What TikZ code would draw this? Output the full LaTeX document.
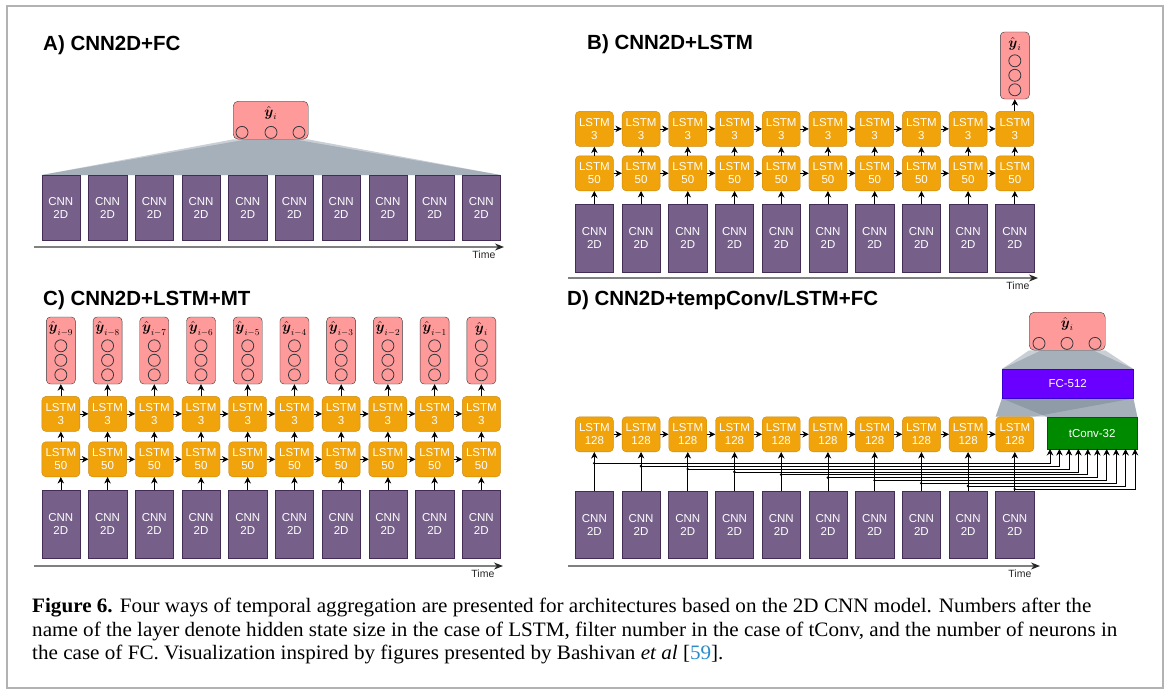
\documentclass[tikz,border=0pt]{standalone}
\usepackage{amsmath}
\usepackage{fontspec}
\setmainfont{Liberation Serif}
\setsansfont{Liberation Sans}
\newfontfamily\capfont[FakeStretch=1.03]{Liberation Serif}
\usetikzlibrary{arrows.meta,positioning,calc,backgrounds}

\definecolor{cnnfill}{HTML}{76608A}
\definecolor{cnnline}{HTML}{432D57}
\definecolor{lstmfill}{HTML}{F0A30A}
\definecolor{lstmline}{HTML}{C98A10}
\definecolor{outfill}{HTML}{FF9A9A}
\definecolor{outline}{HTML}{36393D}
\definecolor{fcfill}{HTML}{6A00FF}
\definecolor{fcline}{HTML}{3700CC}
\definecolor{tcfill}{HTML}{008A00}
\definecolor{tcline}{HTML}{005700}
\definecolor{fanc}{HTML}{647687}
\definecolor{citeblue}{HTML}{2A8BC9}

\begin{document}
\begin{tikzpicture}[x=1pt,y=-1pt]

\tikzset{
  blk/.style  = {inner sep=0pt, align=center, text=white, anchor=north west,
                 font=\sffamily\fontsize{11.5}{13.3}\selectfont},
  cnn/.style  = {blk, draw=cnnline, fill=cnnfill, minimum width=38.3},
  lstm/.style = {blk, draw=lstmline, fill=lstmfill, rounded corners=4,
                 minimum width=38, minimum height=35},
  outv/.style = {draw=outline, fill=outfill, rounded corners=4, inner sep=0pt,
                 minimum width=29, minimum height=67},
  outh/.style = {draw=outline, fill=outfill, rounded corners=5, inner sep=0pt,
                 anchor=north west, minimum width=75, minimum height=38},
  neu/.style  = {circle, draw=outline, line width=0.8pt, minimum size=12,
                 inner sep=0pt},
  yhat/.style = {inner sep=0pt, font=\fontsize{13.5}{14}\selectfont},
  flow/.style = {-{Stealth[length=6.5pt,width=6.5pt]}, line width=0.7pt},
  axis/.style = {-{Stealth[length=9pt,width=7pt,color=black!85]},
                 line width=1.2pt, draw=black!50},
  tlbl/.style = {font=\sffamily\fontsize{10.5}{12}\selectfont, text=black!85,
                 inner sep=0pt, anchor=north east, xshift=-8pt, yshift=-3pt},
  ttl/.style  = {font=\sffamily\bfseries\fontsize{20.5}{24}\selectfont,
                 inner sep=0pt, anchor=west},
  fan/.style  = {fill=fanc, fill opacity=0.35, draw=none},
  captxt/.style = {font=\capfont\fontsize{20.5}{24}\selectfont, inner sep=0pt,
                 anchor=base west},
}

\useasboundingbox (0,0) rectangle (1167,693);
\draw[black!30, line width=1.5pt] (7,6) rectangle (1163,688);

% A) CNN2D+FC
\node[ttl] (tA) at (43,45) {A) CNN2D+FC};
\foreach \i in {0,...,9}
  \node[cnn, minimum height=65] (Ac\i) at ({41.5+46.72*\i},175) {CNN\\2D};
\node[outh] (Ao) at (233,101) {};
\node[yhat] (Aol) at ($(Ao.north)+(0,12)$) {$\hat{\boldsymbol{y}}_i$};
\foreach \k/\dx in {0/9,1/38,2/66}
  \node[neu] (Aon\k) at ($(Ao.south west)+(\dx,-7)$) {};
\begin{scope}[on background layer]
  \fill[fan] (Ac0.north west) -- (Ac9.north east) -- (Ao.south east) -- (Ao.south west) -- cycle;
  \fill[fan] (Ac0.north west) -- (Ac9.north east) -- ($(Ao.south east)+(-14,0)$) -- ($(Ao.south west)+(14,0)$) -- cycle;
\end{scope}
\coordinate (At0) at (34,247);
\coordinate (At1) at (504,247);
\draw[axis] (At0) -- (At1) node[tlbl] (Atl) {Time};

% B) CNN2D+LSTM
\node[ttl] (tB) at (587,44) {B) CNN2D+LSTM};
\foreach \i in {0,...,9} {
  \node[cnn, minimum height=68] (Bc\i) at ({575+46.72*\i},204) {CNN\\2D};
  \node[lstm, above=13pt of Bc\i] (Bl\i) {LSTM\\50};
  \node[lstm, above=9pt of Bl\i] (Bh\i) {LSTM\\3};
  \draw[flow] (Bc\i) -- (Bl\i);
  \draw[flow] (Bl\i) -- (Bh\i);
}
\foreach \i [count=\j from 1] in {0,...,8} {
  \draw[flow] (Bl\i) -- (Bl\j);
  \draw[flow] (Bh\i) -- (Bh\j);
}
\node[outv, above=12pt of Bh9] (Bo) {};
\node[yhat] (Bol) at ($(Bo.north)+(0,12)$) {$\hat{\boldsymbol{y}}_i$};
\foreach \k/\dy in {0/29,1/43.5,2/58}
  \node[neu] (Bon\k) at ($(Bo.north)+(0,\dy)$) {};
\draw[flow] (Bh9) -- (Bo);
\coordinate (Bt0) at (568,278);
\coordinate (Bt1) at (1038,278);
\draw[axis] (Bt0) -- (Bt1) node[tlbl] (Btl) {Time};

% C) CNN2D+LSTM+MT
\node[ttl] (tC) at (43,300) {C) CNN2D+LSTM+MT};
\foreach \i/\lab in {0/{i-9},1/{i-8},2/{i-7},3/{i-6},4/{i-5},5/{i-4},6/{i-3},7/{i-2},8/{i-1},9/i} {
  \node[cnn, minimum height=68] (Cc\i) at ({41.5+46.72*\i},490) {CNN\\2D};
  \node[lstm, above=13pt of Cc\i] (Cl\i) {LSTM\\50};
  \node[lstm, above=10pt of Cl\i] (Ch\i) {LSTM\\3};
  \node[outv, above=12pt of Ch\i] (Co\i) {};
  \node[yhat] (Col\i) at ($(Co\i.north)+(0,12)$) {$\hat{\boldsymbol{y}}_{\lab}$};
  \foreach \k/\dy in {0/29,1/43.5,2/58}
    \node[neu] (Con\i\k) at ($(Co\i.north)+(0,\dy)$) {};
  \draw[flow] (Cc\i) -- (Cl\i);
  \draw[flow] (Cl\i) -- (Ch\i);
  \draw[flow] (Ch\i) -- (Co\i);
}
\foreach \i [count=\j from 1] in {0,...,8} {
  \draw[flow] (Cl\i) -- (Cl\j);
  \draw[flow] (Ch\i) -- (Ch\j);
}
\coordinate (Ct0) at (34,566);
\coordinate (Ct1) at (503,566);
\draw[axis] (Ct0) -- (Ct1) node[tlbl] (Ctl) {Time};

% D) CNN2D+tempConv/LSTM+FC
\node[ttl] (tD) at (567,300) {D) CNN2D+tempConv/LSTM+FC};
\node[blk, draw=tcline, fill=tcfill, minimum width=90, minimum height=32] (Dt) at (1047,417) {tConv-32};
\node[blk, draw=fcline, fill=fcfill, minimum width=131, minimum height=29] (Df) at (1002,369) {FC-512};
\node[outh, minimum width=76] (Do) at (1029,312) {};
\node[yhat] (Dol) at ($(Do.north)+(0,12)$) {$\hat{\boldsymbol{y}}_i$};
\foreach \k/\dx in {0/10,1/38,2/66}
  \node[neu] (Don\k) at ($(Do.south west)+(\dx,-7)$) {};
\foreach \i in {0,...,9} {
  \node[cnn, minimum height=67] (Dc\i) at ({575+46.72*\i},491) {CNN\\2D};
  \node[lstm, above=39pt of Dc\i] (Dl\i) {LSTM\\128};
  \draw[flow] (Dc\i) -- (Dl\i);
  \coordinate (Dw\i) at ({594.15+46.72*\i},{463.3+2.85*\i});
  \coordinate (Da\i) at ({1050+9.45*\i},449);
  \fill (Dw\i) circle (1.3);
  \draw[flow] (Dw\i) -| (Da\i);
}
\foreach \i [count=\j from 1] in {0,...,8}
  \draw[flow] (Dl\i) -- (Dl\j);
\begin{scope}[on background layer]
  \fill[fan] (Dl9.north west) -- (Dl9.north east) -- (Df.south east) -- (Df.south west) -- cycle;
  \fill[fan] (Dt.north west) -- (Dt.north east) -- (Df.south east) -- (Df.south west) -- cycle;
  \fill[fan] (Dl9.north west) -- (Dt.north east) -- (Df.south east) -- (Df.south west) -- cycle;
  \fill[fan] (Df.north west) -- (Df.north east) -- (Do.south east) -- (Do.south west) -- cycle;
  \fill[fan] (Df.north west) -- (Df.north east) -- ($(Do.south east)+(-12,0)$) -- ($(Do.south west)+(12,0)$) -- cycle;
\end{scope}
\coordinate (Dt0) at (568,566);
\coordinate (Dt1) at (1040,566);
\draw[axis] (Dt0) -- (Dt1) node[tlbl] (Dtl) {Time};

% caption
\node[captxt] (cap1) at (32,612.5) {\textbf{Figure 6.} Four ways of temporal aggregation are presented for architectures based on the 2D CNN model. Numbers after the};
\node[captxt] (cap2) at (32,636) {name of the layer denote hidden state size in the case of LSTM, filter number in the case of tConv, and the number of neurons in};
\node[captxt] (cap3) at (32,659.5) {the case of FC. Visualization inspired by figures presented by Bashivan \textit{et al} [\textcolor{citeblue}{59}].};
\end{tikzpicture}
\end{document}
